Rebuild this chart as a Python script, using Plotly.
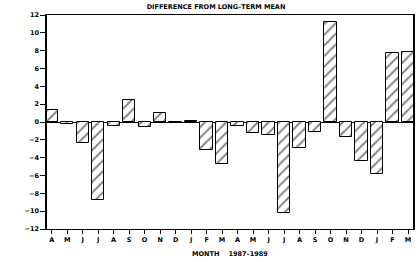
import plotly.graph_objects as go

months = ["A", "M", "J", "J", "A", "S", "O", "N", "D", "J", "F", "M",
          "A", "M", "J", "J", "A", "S", "O", "N", "D", "J", "F", "M"]
values = [1.4, -0.25, -2.3, -8.7, -0.45, 2.45, -0.6, 1.05, -0.08, 0.12, -3.1, -4.7,
          -0.4, -1.2, -1.5, -10.2, -2.9, -1.1, 11.2, -1.7, -4.4, -5.8, 7.7, 7.8]
y_ticks = list(range(-12, 13, 2))
y_labels = [("\u2212" + str(-v)) if v < 0 else str(v) for v in y_ticks]

x = list(range(len(months)))
font_family = "DejaVu Sans"

fig = go.Figure()
fig.add_trace(go.Bar(
    x=x, y=values, width=0.79,
    marker=dict(color="white",
                line=dict(color="black", width=1),
                pattern=dict(shape="/", fgcolor="black", bgcolor="white",
                             size=7.5, solidity=0.25)),
    showlegend=False,
))

fig.update_layout(
    width=419, height=262,
    margin=dict(l=47, r=4, t=15, b=33),
    paper_bgcolor="white", plot_bgcolor="white",
    title=dict(text="DIFFERENCE FROM LONG\u2013TERM MEAN",
               font=dict(family=font_family, size=6.5, color="black", weight="bold"),
               x=216 / 419, xanchor="center", y=1 - 7 / 262, yanchor="middle"),
    bargap=0,
)
fig.update_xaxes(
    range=[-0.3, 23.32],
    tickmode="array", tickvals=x, ticktext=months,
    ticks="outside", ticklen=4, tickwidth=1, tickcolor="black",
    showline=True, linecolor="black", linewidth=1.2, mirror=True,
    showgrid=False, zeroline=False,
    tickfont=dict(family=font_family, size=6.5, color="black", weight="bold"),
    title=dict(text="MONTH\u00a0\u00a0\u00a0\u00a01987\u20131989",
               font=dict(family=font_family, size=6.5, color="black", weight="bold"),
               standoff=8),
)
fig.update_yaxes(
    range=[-12, 12],
    tickmode="array", tickvals=y_ticks, ticktext=y_labels,
    ticks="outside", ticklen=5, tickwidth=1, tickcolor="black",
    showline=True, linecolor="black", linewidth=1.5, mirror=True,
    showgrid=False, zeroline=True, zerolinecolor="black", zerolinewidth=1,
    tickfont=dict(family=font_family, size=6.5, color="black", weight="bold"),
)

fig.write_html("out.html")
